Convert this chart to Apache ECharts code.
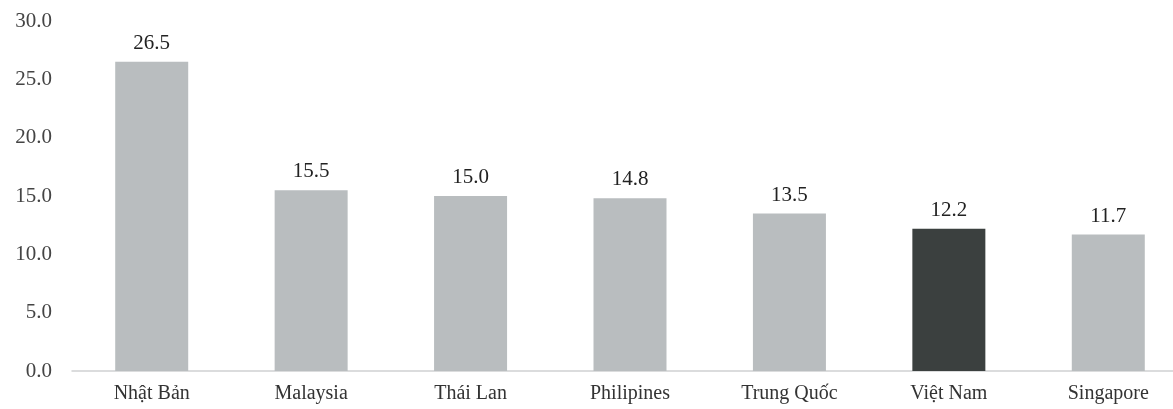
<!DOCTYPE html>
<html>
<head>
<meta charset="utf-8">
<script src="https://cdn.jsdelivr.net/npm/echarts@6/dist/echarts.min.js"></script>
<style>
html,body{margin:0;padding:0;background:#fff;}
#c{width:1173px;height:409px;}
</style>
</head>
<body>
<div id="c"></div>
<script>
const categories = ["Nhật Bản", "Malaysia", "Thái Lan", "Philipines", "Trung Quốc", "Việt Nam", "Singapore"];
const values = [26.5, 15.5, 15.0, 14.8, 13.5, 12.2, 11.7];
const highlightCategory = "Việt Nam";
const yTicks = { min: 0, max: 30, interval: 5 };

const chart = echarts.init(document.getElementById('c'), null, {renderer: 'canvas'});
const FONT = '"Liberation Serif", "DejaVu Serif", serif';
chart.setOption({
  animation: false,
  backgroundColor: '#ffffff',
  grid: { left: 72, top: 21, width: 1116, bottom: 38, containLabel: false, outerBoundsMode: 'none' },
  xAxis: {
    type: 'category',
    data: categories,
    axisLine: { show: true, lineStyle: { color: '#cfd1d2', width: 1.5 } },
    axisTick: { show: false },
    axisLabel: { color: '#333', fontFamily: FONT, fontSize: 20, margin: 13 }
  },
  yAxis: {
    type: 'value',
    min: yTicks.min, max: yTicks.max, interval: yTicks.interval,
    axisLine: { show: false },
    axisTick: { show: false },
    splitLine: { show: false },
    axisLabel: { color: '#444', fontFamily: FONT, fontSize: 21, margin: 20,
      formatter: v => v.toFixed(1) }
  },
  series: [{
    type: 'bar',
    barWidth: 73,
    data: values.map((v, i) => ({
      value: v,
      itemStyle: { color: categories[i] === highlightCategory ? '#3b403f' : '#b9bdbf' }
    })),
    label: {
      show: true, position: 'top', distance: 8,
      color: '#222', fontFamily: FONT, fontSize: 21,
      formatter: p => p.value.toFixed(1)
    }
  }]
});
</script>
</body>
</html>
